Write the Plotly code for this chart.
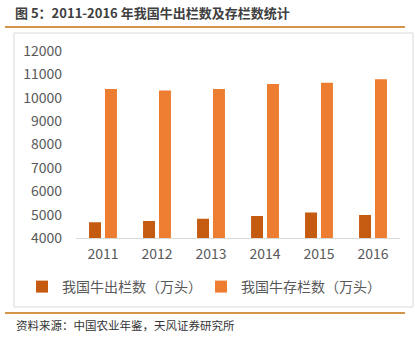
import plotly.graph_objects as go

years = ["2011", "2012", "2013", "2014", "2015", "2016"]
slaughter = [4670, 4725, 4823, 4938, 5096, 4981]
stock = [10370, 10314, 10370, 10583, 10642, 10796]
series_names = ["我国牛出栏数（万头）", "我国牛存栏数（万头）"]
y_ticks = [4000, 5000, 6000, 7000, 8000, 9000, 10000, 11000, 12000]

W, H = 415, 339
ML, MR, MT, MB = 76, 15, 51, 101
PW, PH = W - ML - MR, H - MT - MB

def px(x):
    return (x - ML) / PW

def py(y):
    return (H - MB - y) / PH

FONT = "Noto Sans CJK SC"

fig = go.Figure()
fig.add_bar(x=years, y=slaughter, name=series_names[0], marker_color="#C55A11",
            marker_line_width=0)
fig.add_bar(x=years, y=stock, name=series_names[1], marker_color="#ED7D31",
            marker_line_width=0)

fig.update_layout(
    width=W, height=H,
    margin=dict(l=ML, r=MR, t=MT, b=MB),
    paper_bgcolor="white", plot_bgcolor="white",
    barmode="group", bargap=0.41, bargroupgap=0.25,
    font=dict(family=FONT, color="#595959", size=14),
    showlegend=True,
    legend=dict(orientation="h", x=px(22), xanchor="left", y=py(287), yanchor="middle",
                font=dict(size=14, color="#595959", family=FONT),
                itemwidth=30, traceorder="normal", entrywidth=134,
                bgcolor="rgba(0,0,0,0)"),
    title=dict(text="<b>图 5：2011-2016 年我国牛出栏数及存栏数统计</b>",
               xref="container", yref="container", x=15 / W, xanchor="left",
               y=1 - 13 / H, yanchor="middle",
               font=dict(size=13, color="#404040", family=FONT)),
)

fig.update_xaxes(showgrid=False, showline=True, linecolor="#D9D9D9", linewidth=1,
                 ticks="", tickfont=dict(size=14, color="#595959"), ticklabelstandoff=3)
fig.update_yaxes(range=[4000, 12000], tickvals=y_ticks, ticktext=[str(v) for v in y_ticks],
                 showgrid=False, zeroline=False,
                 showline=False, ticks="", tickfont=dict(size=14, color="#595959"),
                 ticklabelstandoff=13)

# frame and decorative lines
fig.add_shape(type="rect", xref="paper", yref="paper",
              x0=px(14), x1=px(413), y0=py(307), y1=py(33),
              line=dict(color="#D9D9D9", width=1), layer="below")
fig.add_shape(type="line", xref="paper", yref="paper",
              x0=px(5), x1=px(405), y0=py(27), y1=py(27),
              line=dict(color="#D4954A", width=2))
fig.add_shape(type="line", xref="paper", yref="paper",
              x0=px(5), x1=px(405), y0=py(313), y1=py(313),
              line=dict(color="#D4954A", width=2))

fig.add_annotation(text="资料来源：中国农业年鉴，天风证券研究所", xref="paper", yref="paper",
                   x=px(14), y=py(325), xanchor="left", yanchor="middle", showarrow=False,
                   font=dict(size=11.5, color="#333333", family=FONT))

fig.write_html("out.html")
